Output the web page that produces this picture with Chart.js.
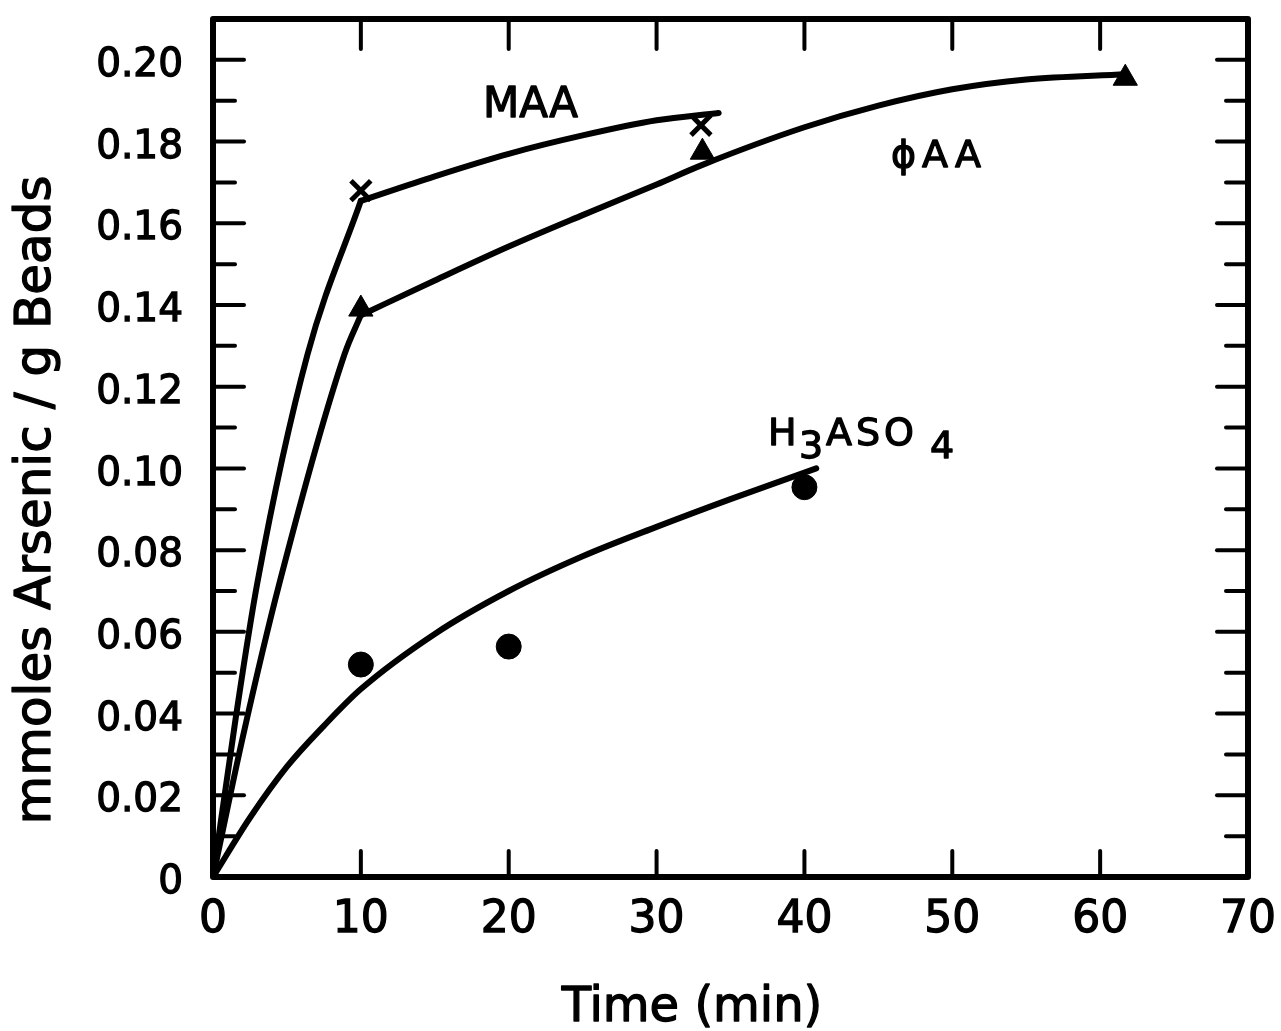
<!DOCTYPE html>
<html>
<head>
<meta charset="utf-8">
<title>Arsenic uptake vs time</title>
<script src="https://cdn.jsdelivr.net/npm/chart.js@4.4.1/dist/chart.umd.min.js"></script>
<style>
  html, body { margin: 0; padding: 0; background: #fff; }
  canvas { display: block; }
</style>
</head>
<body>
<canvas id="chart" width="1281" height="1031"></canvas>
<script>
// axis ranges / ticks
const xTicks = [0, 10, 20, 30, 40, 50, 60, 70];
const yMax = 0.21;
const yStep = 0.01;

// measured points
const maaX = [10, 33];
const maaY = [0.168, 0.184];
const phiX = [10, 33.1, 61.7];
const phiY = [0.139, 0.1774, 0.1955];
const arsX = [10, 20, 40];
const arsY = [0.052, 0.0564, 0.0954];

// hand-drawn fitted curves
const maaRiseX = [0, 1.5, 3, 6.4, 10];
const maaRiseY = [0, 0.038, 0.072, 0.128, 0.1655];
const maaTopX = [10, 15, 20, 25, 30, 34.2];
const maaTopY = [0.1655, 0.1715, 0.177, 0.1815, 0.1852, 0.187];

const phiRiseX = [0, 2, 4.5, 8.9, 10];
const phiRiseY = [0, 0.034, 0.072, 0.128, 0.1375];
const phiTopX = [10, 15, 20, 25, 30, 33.1, 40, 45, 50, 55, 61.7];
const phiTopY = [0.1375, 0.146, 0.1543, 0.162, 0.1695, 0.1743, 0.1835, 0.1888, 0.1928, 0.1952, 0.1965];

const arsFitX = [0, 2.5, 5, 7.5, 10, 15, 20, 25, 30, 35, 40.8];
const arsFitY = [0, 0.0145, 0.027, 0.037, 0.046, 0.0595, 0.07, 0.0785, 0.0857, 0.0925, 0.1];

const INK = '#000';
const FONT = '"DejaVu Sans", sans-serif';
const TEXT_STROKE = 1.3;

const pts = (xs, ys) => xs.map((x, i) => ({ x: x, y: ys[i] }));

function curve(xs, ys) {
    return {
        data: pts(xs, ys),
        showLine: true,
        borderColor: INK,
        borderWidth: 6,
        pointRadius: 0,
        cubicInterpolationMode: 'monotone',
        borderCapStyle: 'round',
        borderJoinStyle: 'round'
    };
}

function markers(xs, ys, style, radius) {
    return {
        data: pts(xs, ys),
        showLine: false,
        pointStyle: style,
        pointRadius: radius,
        pointBackgroundColor: INK,
        pointBorderColor: INK,
        pointBorderWidth: style === 'crossRot' ? 5 : 1
    };
}

function line(ctx, x1, y1, x2, y2) {
    ctx.beginPath();
    ctx.moveTo(x1, y1);
    ctx.lineTo(x2, y2);
    ctx.stroke();
}

// fill + thin stroke, to get the heavier lettering of the original
function text(ctx, s, x, y) {
    ctx.fillText(s, x, y);
    ctx.strokeText(s, x, y);
    return x + ctx.measureText(s).width;
}

// inward tick marks on all four sides + heavy frame
const frameAndTicks = {
    id: 'frameAndTicks',
    beforeDatasetsDraw(chart) {
        const { ctx, chartArea: a, scales: { x, y } } = chart;
        ctx.save();
        ctx.strokeStyle = INK;
        ctx.lineCap = 'round';
        ctx.lineWidth = 4;
        x.ticks.forEach(t => {
            if (t.value <= x.min || t.value >= x.max) return;
            const px = x.getPixelForValue(t.value);
            line(ctx, px, a.bottom, px, a.bottom - 26);
            line(ctx, px, a.top, px, a.top + 30);
        });
        y.ticks.forEach(t => {
            if (t.value <= y.min || t.value >= y.max - 1e-9) return;
            const py = y.getPixelForValue(t.value);
            const len = Math.round(t.value * 100) % 2 === 0 ? 31 : 22;
            line(ctx, a.left, py, a.left + len, py);
            line(ctx, a.right, py, a.right - len, py);
        });
        ctx.lineWidth = 6;
        ctx.lineJoin = 'round';
        ctx.strokeRect(a.left, a.top, a.right - a.left, a.bottom - a.top);
        ctx.restore();
    }
};

// axis titles and curve labels
const labels = {
    id: 'labels',
    afterDraw(chart) {
        const ctx = chart.ctx;
        ctx.save();
        ctx.fillStyle = INK;
        ctx.strokeStyle = INK;
        ctx.lineWidth = TEXT_STROKE;
        ctx.lineJoin = 'round';
        ctx.textBaseline = 'alphabetic';

        ctx.font = '48px ' + FONT;
        ctx.textAlign = 'center';
        text(ctx, 'Time (min)', 692, 1021);

        ctx.save();
        ctx.translate(50, 500);
        ctx.rotate(-Math.PI / 2);
        ctx.font = '50px ' + FONT;
        text(ctx, 'mmoles Arsenic / g Beads', 0, 0);
        ctx.restore();

        ctx.textAlign = 'left';
        ctx.font = '42px ' + FONT;
        text(ctx, 'MAA', 483, 117);

        ctx.font = '38px ' + FONT;
        ctx.letterSpacing = '6px';
        text(ctx, 'ϕAA', 891, 167);

        ctx.letterSpacing = '0px';
        ctx.font = '38px ' + FONT;
        text(ctx, 'H', 768, 445);
        text(ctx, '3', 799, 458);
        ctx.letterSpacing = '4px';
        const end = text(ctx, 'ASO', 826, 445);
        ctx.letterSpacing = '0px';
        text(ctx, '4', end + 12, 458);
        ctx.restore();
    }
};

new Chart(document.getElementById('chart'), {
    type: 'scatter',
    data: {
        datasets: [
            curve(maaRiseX, maaRiseY),
            curve(maaTopX, maaTopY),
            curve(phiRiseX, phiRiseY),
            curve(phiTopX, phiTopY),
            curve(arsFitX, arsFitY),
            markers(maaX, maaY, 'crossRot', 14),
            markers(phiX, phiY, 'triangle', 14),
            markers(arsX, arsY, 'circle', 12.5)
        ]
    },
    options: {
        responsive: false,
        animation: false,
        devicePixelRatio: 1,
        layout: { padding: { left: 0, top: 14, right: 33, bottom: 0 } },
        plugins: {
            legend: { display: false },
            tooltip: { enabled: false }
        },
        scales: {
            x: {
                type: 'linear',
                min: xTicks[0],
                max: xTicks[xTicks.length - 1],
                grid: { display: false },
                border: { display: false },
                ticks: {
                    stepSize: 10,
                    autoSkip: false,
                    maxRotation: 0,
                    padding: 9,
                    color: INK,
                    textStrokeColor: INK,
                    textStrokeWidth: TEXT_STROKE,
                    font: { family: FONT, size: 44 }
                },
                afterFit(scale) {
                    scale.height = 154;
                    scale.paddingLeft = 0;
                    scale.paddingRight = 0;
                }
            },
            y: {
                min: 0,
                max: yMax,
                grid: { display: false },
                border: { display: false },
                ticks: {
                    stepSize: yStep,
                    autoSkip: false,
                    padding: 22,
                    labelOffset: 6,
                    color: INK,
                    textStrokeColor: INK,
                    textStrokeWidth: TEXT_STROKE,
                    font: { family: FONT, size: 39 },
                    callback: v => {
                        const n = Math.round(v * 100);
                        if (n % 2 !== 0) return '';
                        return n === 0 ? '0' : (n / 100).toFixed(2);
                    }
                },
                afterFit(scale) {
                    scale.width = 213;
                    scale.paddingTop = 0;
                    scale.paddingBottom = 0;
                }
            }
        }
    },
    plugins: [frameAndTicks, labels]
});
</script>
</body>
</html>
